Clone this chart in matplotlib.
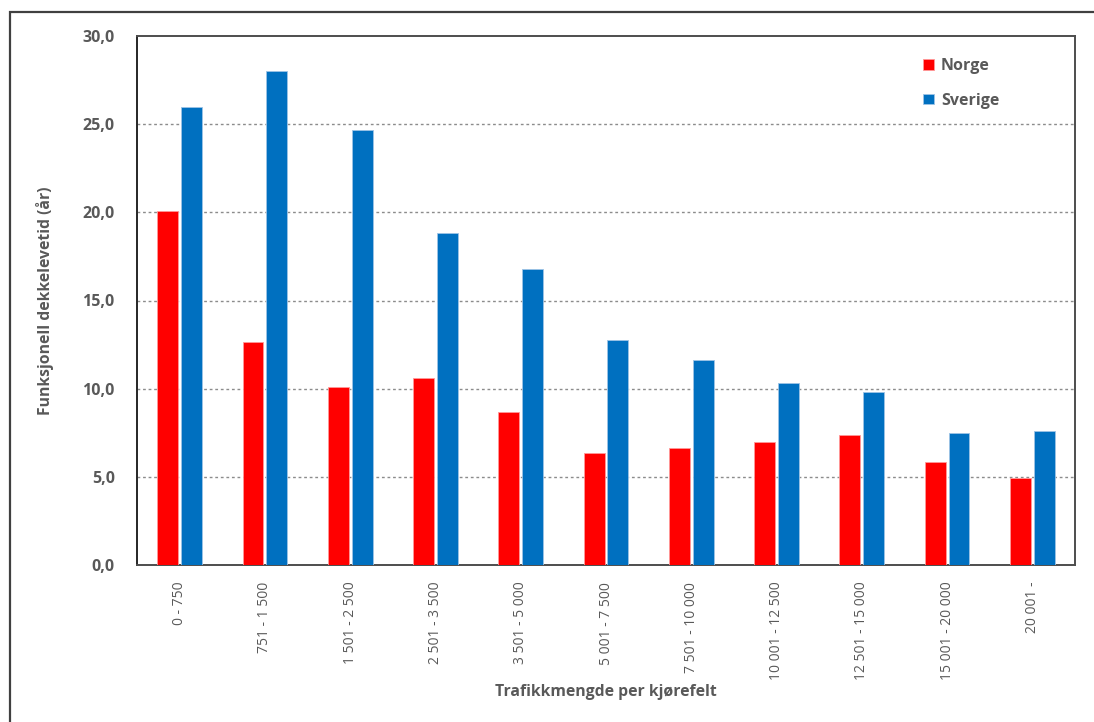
import matplotlib.pyplot as plt
import numpy as np
from matplotlib.patches import Rectangle

# Trafikkmengde-klasser og funksjonell dekkelevetid (år)
categories = ["0 - 750", "751 - 1 500", "1 501 - 2 500", "2 501 - 3 500",
              "3 501 - 5 000", "5 001 - 7 500", "7 501 - 10 000",
              "10 001 - 12 500", "12 501 - 15 000", "15 001 - 20 000", "20 001 -"]
norge = [20.1, 12.65, 10.1, 10.6, 8.65, 6.35, 6.65, 7.0, 7.35, 5.85, 4.95]
sverige = [26.0, 28.0, 24.65, 18.8, 16.8, 12.75, 11.65, 10.3, 9.8, 7.5, 7.6]
yticks = [0, 5, 10, 15, 20, 25, 30]

plt.rcParams['font.family'] = ['Open Sans', 'DejaVu Sans']
text_col = '#595959'

fig = plt.figure(figsize=(10.94, 7.22), dpi=100)
ax = fig.add_axes([137 / 1094, 1 - 565 / 722, (1075 - 137) / 1094, (565 - 36) / 722])

x = np.arange(len(categories))
w = 0.245
off = 0.14
ax.bar(x - off, norge, w, color='#FF0000', edgecolor='#FF9999', linewidth=0.6,
       label='Norge', zorder=3)
ax.bar(x + off, sverige, w, color='#0070C0', edgecolor='#9DC3E6', linewidth=0.6,
       label='Sverige', zorder=3)

ax.set_xlim(-0.5, len(categories) - 0.5)
ax.set_ylim(0, 30)
ax.set_yticks(yticks)
ax.set_yticklabels([f"{v:.1f}".replace('.', ',') for v in yticks],
                   fontsize=11.5, fontweight='bold', color=text_col)
ax.set_xticks(x)
ax.set_xticklabels(categories, rotation=90, fontsize=10, color=text_col)
ax.tick_params(axis='both', length=0)
ax.tick_params(axis='y', pad=16)
ax.tick_params(axis='x', pad=12)

# stiplede hjelpelinjer
for v in yticks[1:-1]:
    ax.axhline(v, color='#8C8C8C', linewidth=1.0, linestyle=(0, (2, 2)), zorder=1)

for s in ax.spines.values():
    s.set_color('#4D4D4D')
    s.set_linewidth(1.4)
ax.spines['left'].set_color('#262626')

ax.set_ylabel('Funksjonell dekkelevetid (år)', fontsize=11.3, fontweight='bold',
              color=text_col)
ax.yaxis.set_label_coords(-83 / 938, 0.5)
ax.set_xlabel('Trafikkmengde per kjørefelt', fontsize=11.3, fontweight='bold',
              color=text_col)
ax.xaxis.set_label_coords(0.5, -(684 - 565) / 529)

leg = ax.legend(loc='upper left', bbox_to_anchor=(772 / 938, 0.985), frameon=False,
                fontsize=11.5, handlelength=0.65, handleheight=0.65,
                handletextpad=0.45, labelspacing=1.15)
for t in leg.get_texts():
    t.set_color(text_col)
    t.set_fontweight('bold')

# ramme rundt hele figuren
fig.patches.append(Rectangle((10 / 1094, -0.05), 1.1, 1 - 12 / 722 + 0.05,
                             transform=fig.transFigure, fill=False,
                             edgecolor='#404040', linewidth=1.6))

fig.savefig('out.png', dpi=100)
